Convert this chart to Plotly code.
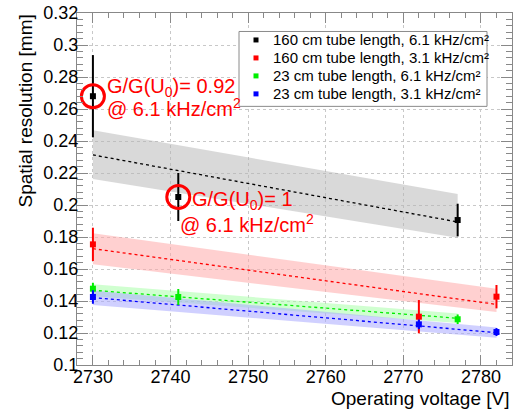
import plotly.graph_objects as go

# ---- data ----
series_names = [
    "160 cm tube length, 6.1 kHz/cm²",
    "160 cm tube length, 3.1 kHz/cm²",
    "23 cm tube length, 6.1 kHz/cm²",
    "23 cm tube length, 3.1 kHz/cm²",
]
black_x = [2730, 2741, 2777]
black_y = [0.268, 0.205, 0.1906]
black_err = [0.0257, 0.015, 0.0102]

red_x = [2730, 2772, 2782]
red_y = [0.1754, 0.1302, 0.1427]
red_err = [0.0104, 0.0104, 0.0073]

green_x = [2730, 2741, 2777]
green_y = [0.1477, 0.1425, 0.1286]
green_err = [0.0037, 0.005, 0.003]

blue_x = [2730, 2772, 2782]
blue_y = [0.1425, 0.1254, 0.1206]
blue_err = [0.0042, 0.003, 0.0025]

# linear fits (end points) and confidence band limits
black_fit_x = [2730, 2777]
black_fit_y = [0.2313, 0.1894]
black_band_hi = [0.2467, 0.2069]
black_band_lo = [0.2163, 0.1796]

red_fit_x = [2730, 2782]
red_fit_y = [0.1727, 0.1379]
red_band_hi = [0.1823, 0.1477]
red_band_lo = [0.1629, 0.1331]

green_fit_x = [2730, 2777]
green_fit_y = [0.1467, 0.1292]
green_band_hi = [0.1505, 0.1322]
green_band_lo = [0.1429, 0.1262]

blue_fit_x = [2730, 2782]
blue_fit_y = [0.1421, 0.1202]
blue_band_hi = [0.1465, 0.1235]
blue_band_lo = [0.1375, 0.1170]

x_ticks = [2730, 2740, 2750, 2760, 2770, 2780]

colors = ["#000000", "#ff0000", "#00ee00", "#0000ff"]
band_colors = ["rgba(180,180,180,0.5)", "rgba(255,170,170,0.55)",
               "rgba(170,255,170,0.55)", "rgba(170,170,255,0.55)"]

series = [
    (black_x, black_y, black_err, black_fit_x, black_fit_y, black_band_hi, black_band_lo),
    (red_x, red_y, red_err, red_fit_x, red_fit_y, red_band_hi, red_band_lo),
    (green_x, green_y, green_err, green_fit_x, green_fit_y, green_band_hi, green_band_lo),
    (blue_x, blue_y, blue_err, blue_fit_x, blue_fit_y, blue_band_hi, blue_band_lo),
]

FONT = "Liberation Sans, Arial, sans-serif"
fig = go.Figure()

# bands
for (x, y, e, fx, fy, bh, bl), fcol in zip(series, band_colors):
    fig.add_trace(go.Scatter(
        x=fx + fx[::-1], y=bh + bl[::-1], fill="toself", fillcolor=fcol,
        line=dict(width=0), mode="lines", hoverinfo="skip", showlegend=False))
# fit lines
for (x, y, e, fx, fy, bh, bl), col in zip(series, colors):
    fig.add_trace(go.Scatter(
        x=fx, y=fy, mode="lines", line=dict(color=col, width=1.3, dash="dot"),
        hoverinfo="skip", showlegend=False))
# data points
for (x, y, e, fx, fy, bh, bl), col, name in zip(series, colors, series_names):
    fig.add_trace(go.Scatter(
        x=x, y=y, mode="markers", name=name, showlegend=False,
        marker=dict(symbol="square", size=6, color=col),
        error_y=dict(type="data", array=e, visible=True, color=col,
                     thickness=2, width=0)))

# highlight circles around the first two black points
fig.add_trace(go.Scatter(
    x=black_x[:2], y=black_y[:2], mode="markers", showlegend=False,
    hoverinfo="skip",
    marker=dict(symbol="circle-open", size=23, color="#ff0000",
                line=dict(width=3, color="#ff0000"))))

red_font = dict(family=FONT, size=20, color="#ff0000")
annots = [
    dict(x=black_x[0], y=black_y[0], text="G/G(U<sub>0</sub>)= 0.92",
         xshift=12, yshift=9),
    dict(x=black_x[0], y=black_y[0], text="@ 6.1 kHz/cm<sup>2</sup>",
         xshift=12, yshift=-11),
    dict(x=black_x[1], y=black_y[1], text="G/G(U<sub>0</sub>)= 1",
         xshift=12, yshift=-3),
    dict(x=black_x[1], y=black_y[1], text="@ 6.1 kHz/cm<sup>2</sup>",
         xshift=0, yshift=-26),
]
for a in annots:
    fig.add_annotation(xref="x", yref="y", showarrow=False, xanchor="left",
                       yanchor="middle", font=red_font, **a)

# axis titles (ROOT style, aligned to the ends of the axes)
title_font = dict(family=FONT, size=19, color="#000")
fig.add_annotation(xref="paper", yref="paper", x=1.0, y=0, yshift=-33,
                   xanchor="right", yanchor="middle", showarrow=False,
                   text="Operating voltage [V]", font=title_font)
fig.add_annotation(xref="paper", yref="paper", x=0, y=1.0, xshift=-52,
                   xanchor="center", yanchor="top", showarrow=False,
                   textangle=-90, text="Spatial resolution [mm]", font=title_font)

W, H = 518, 410
PL, PT, PR, PB = 77, 12.5, 6, 45   # plot area margins (px)
PW, PH = W - PL - PR, H - PT - PB

# legend box (ROOT style TLegend), entries built from the series lists
leg_x0, leg_x1 = 239, 487          # pixels
leg_y0, leg_y1 = 31, 106
row_y = [39.5, 57.5, 75.5, 93.5]
def px(xp):
    return (xp - PL) / PW
def py(yp):
    return 1 - (yp - PT) / PH
fig.add_shape(type="rect", xref="paper", yref="paper", layer="above",
              x0=px(leg_x0), x1=px(leg_x1), y0=py(leg_y1), y1=py(leg_y0),
              line=dict(color="#8a8a8a", width=1), fillcolor="white")
for name, col, ry in zip(series_names, colors, row_y):
    fig.add_shape(type="rect", xref="paper", yref="paper", layer="above",
                  xsizemode="pixel", ysizemode="pixel",
                  xanchor=px(256), yanchor=py(ry),
                  x0=-2.5, x1=2.5, y0=-2.5, y1=2.5,
                  line=dict(width=0), fillcolor=col)
    fig.add_annotation(xref="paper", yref="paper", x=px(271), y=py(ry),
                       xanchor="left", yanchor="middle", showarrow=False,
                       text=name, font=dict(family=FONT, size=15, color="#000"))

axis_common = dict(
    showline=True, linecolor="#888888", linewidth=1, mirror="ticks",
    ticks="inside", tickcolor="#888888", automargin=False,
    ticklabeloverflow="allow",
    showgrid=True, gridcolor="#c8c8c8", griddash="dot", gridwidth=1,
    zeroline=False,
    tickfont=dict(family=FONT, size=18, color="#000"),
)
fig.update_xaxes(range=[2727.95, 2784], tickmode="array", tickvals=x_ticks,
                 ticklen=10, ticklabelstandoff=-5,
                 minor=dict(dtick=2, ticklen=5, tickcolor="#888888",
                            ticks="inside", showgrid=False),
                 **axis_common)
fig.update_yaxes(range=[0.1, 0.32], dtick=0.02, tick0=0.1,
                 ticklen=11, ticklabelstandoff=-6,
                 minor=dict(dtick=0.004, ticklen=6, tickcolor="#888888",
                            ticks="inside", showgrid=False),
                 **axis_common)

fig.update_layout(
    width=W, height=H,
    margin=dict(l=PL, r=PR, t=PT, b=PB),
    paper_bgcolor="white", plot_bgcolor="white",
    font=dict(family=FONT),
    showlegend=False,
)

# remove the default 8 px page margin so the figure fills the window exactly
fig.write_html("out.html", config={"displayModeBar": False},
               post_script="document.body.style.margin='0';")
